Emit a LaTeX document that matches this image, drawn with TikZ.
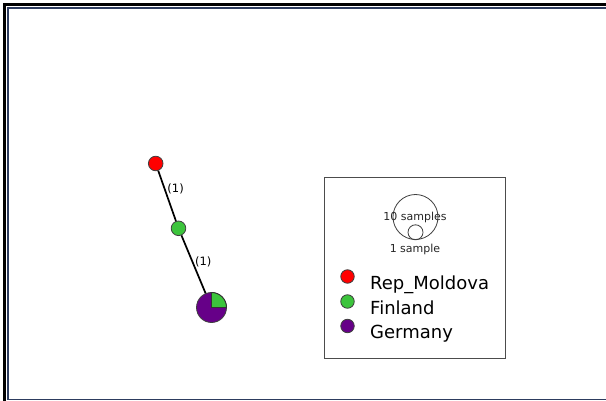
\documentclass[tikz,border=0pt]{standalone}
\usepackage{fontspec}
\setsansfont{DejaVu Sans}
\usepackage{xcolor}
\definecolor{moldovared}{RGB}{255,0,0}
\definecolor{finlandgreen}{RGB}{60,196,60}
\definecolor{germanypurple}{RGB}{102,0,136}
\definecolor{framenavy}{RGB}{45,60,95}

\begin{document}
\begin{tikzpicture}[x=1pt, y=-1pt, font=\sffamily,
	pop/.style={circle, draw=black!75, line width=0.8pt, inner sep=0pt, minimum size=14.6pt},
	edgelabel/.style={right, inner sep=2pt, font=\sffamily\fontsize{11.5}{12}\selectfont},
	scaletext/.style={inner sep=0pt, text=black!85, font=\sffamily\fontsize{11}{12}\selectfont},
	legendtext/.style={anchor=base west, inner sep=0pt, font=\sffamily\fontsize{18}{20}\selectfont}]
	\useasboundingbox (0,0) rectangle (606,401);
	\fill[white] (0,0) rectangle (606,401);
	% Frame
	\fill[black] (3,3) rectangle (6,401);
	\fill[black] (3,3) rectangle (606,6.5);
	\draw[framenavy, line width=1.6pt] (606,8.3) -- (7.8,8.3) -- (7.8,399.5) -- (606,399.5);
	% Network
	\node[pop, fill=moldovared] (moldova) at (155.7,163.5) {};
	\node[pop, fill=finlandgreen] (finland) at (178.5,228.3) {};
	\node[pop, fill=germanypurple, minimum size=30pt] (germany) at (211.5,307.5) {};
	\filldraw[fill=finlandgreen, draw=black!80, line width=0.9pt] (germany.center) -- ++(15pt,0pt)
	arc[start angle=0, end angle=90, radius=15pt] -- cycle;
	\draw[line width=1.7pt] (moldova) -- node[edgelabel, pos=0.36] {(1)} (finland);
	\draw[line width=1.7pt] (finland) -- node[edgelabel, pos=0.45] {(1)} (germany);
	% Legend
	\draw[black!70, line width=0.8pt] (324.5,177.5) rectangle (505.5,358);
	\draw[black!75, line width=0.8pt] (415.5,217) circle[radius=22.5pt];
	\draw[black!75, line width=0.8pt] (415.5,232.3) circle[radius=7.5pt];
	\node[scaletext] (tensamples) at (415,217) {10 samples};
	\node[scaletext] (onesample) at (415,249.5) {1 sample};
	\node[pop, fill=moldovared, minimum size=13.5pt] (keymoldova) at (347.5,276.5) {};
	\node[pop, fill=finlandgreen, minimum size=13.5pt] (keyfinland) at (347.5,301.5) {};
	\node[pop, fill=germanypurple, minimum size=13.5pt] (keygermany) at (347.5,326) {};
	\node[legendtext] (labmoldova) at (370,290) {Rep\_Moldova};
	\node[legendtext] (labfinland) at (370,314) {Finland};
	\node[legendtext] (labgermany) at (370,338.5) {Germany};
\end{tikzpicture}
\end{document}
